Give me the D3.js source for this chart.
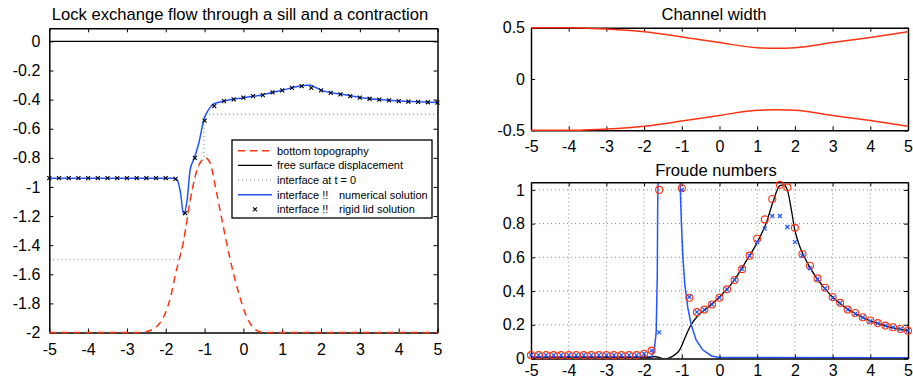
<!DOCTYPE html>
<html>
<head>
<meta charset="utf-8">
<script src="https://cdn.jsdelivr.net/npm/d3@7"></script>
<style>
  body { margin: 0; background: #fff; }
  svg { display: block; font-family: "Liberation Sans", Arial, Helvetica, sans-serif; }
</style>
</head>
<body>
<svg id="chart" width="913" height="382"></svg>
<script>
// ---- left panel: lock exchange ----
const xTicks = [-5, -4, -3, -2, -1, 0, 1, 2, 3, 4, 5];
const leftYTicks = [0, -0.2, -0.4, -0.6, -0.8, -1, -1.2, -1.4, -1.6, -1.8, -2];

const topoX = [-5, -3, -2.65, -2.35, -2.14, -2.0, -1.88, -1.75, -1.54, -1.37, -1.19, -0.98, -0.85, -0.72, -0.55, -0.34, -0.12, 0.05, 0.18, 0.31, 0.52, 1, 5];
const topoY = [-2, -2, -2.0, -1.98, -1.93, -1.86, -1.76, -1.6, -1.37, -1.09, -0.88, -0.8, -0.84, -1.0, -1.23, -1.5, -1.73, -1.87, -1.94, -1.98, -2.0, -2, -2];

const surfX = [-5, 5];
const surfY = [0, 0];

const initX = [-5, -1.67, -1.54, -1.37, -1.19, -1.02, -1.02, 5];
const initY = [-1.5, -1.5, -1.37, -1.09, -0.88, -0.81, -0.5, -0.5];

const numX = [-5, -1.8, -1.71, -1.62, -1.54, -1.45, -1.37, -1.26, -1.15, -1.02, -0.9, -0.77, -0.5, 0, 0.5, 1.0, 1.5, 1.7, 1.85, 2.0, 2.5, 3, 3.5, 4, 4.5, 5];
const numY = [-0.94, -0.94, -0.95, -1.04, -1.19, -1.09, -0.88, -0.8, -0.7, -0.54, -0.47, -0.43, -0.41, -0.387, -0.366, -0.335, -0.305, -0.3, -0.315, -0.335, -0.362, -0.385, -0.4, -0.41, -0.415, -0.42];

const lidX = [-5, -4.75, -4.5, -4.25, -4, -3.75, -3.5, -3.25, -3, -2.75, -2.5, -2.25, -2, -1.75,
  -1.5, -1.25, -1, -0.75, -0.5, -0.25, 0, 0.25, 0.5, 0.75, 1, 1.25, 1.5, 1.75, 2, 2.25, 2.5, 2.75,
  3, 3.25, 3.5, 3.75, 4, 4.25, 4.5, 4.75, 5];
const lidY = [-0.94, -0.94, -0.94, -0.94, -0.94, -0.94, -0.94, -0.94, -0.94, -0.94, -0.94, -0.94, -0.94, -0.945,
  -1.18, -0.8, -0.545, -0.444, -0.41, -0.398, -0.387, -0.376, -0.369, -0.35, -0.337, -0.319, -0.307, -0.319,
  -0.337, -0.353, -0.364, -0.376, -0.387, -0.394, -0.4, -0.405, -0.41, -0.414, -0.416, -0.418, -0.42];

// ---- channel width ----
const chanYTicks = [0.5, 0, -0.5];
const chanX = [-5, -4, -3.5, -3, -2, -1, 0, 1, 1.5, 2, 3, 4, 5];
const chanHalf = [0.5, 0.5, 0.495, 0.487, 0.46, 0.41, 0.355, 0.305, 0.3, 0.305, 0.355, 0.405, 0.46];

// ---- Froude numbers ----
const frYTicks = [0, 0.2, 0.4, 0.6, 0.8, 1];
const frX = [-5, -4.8, -4.6, -4.4, -4.2, -4, -3.8, -3.6, -3.4, -3.2, -3, -2.8, -2.6, -2.4, -2.2,
  -2, -1.8, -1.6, -1.4, -1.2, -1, -0.8, -0.6, -0.4, -0.2, 0, 0.2, 0.4, 0.6, 0.8, 1, 1.2, 1.4, 1.6, 1.8,
  2, 2.2, 2.4, 2.6, 2.8, 3, 3.2, 3.4, 3.6, 3.8, 4, 4.2, 4.4, 4.6, 4.8, 5];
const frCircle = [0.02, 0.02, 0.02, 0.02, 0.02, 0.02, 0.02, 0.02, 0.02, 0.02, 0.02, 0.02, 0.02, 0.02, 0.02,
  0.028, 0.047, 1.0, null, null, 1.01, 0.36, 0.275, 0.29, 0.32, 0.36, 0.41, 0.466, 0.53, 0.61, 0.71, 0.825, 0.946, 1.03, 1.015,
  0.775, 0.62, 0.55, 0.475, 0.42, 0.365, 0.33, 0.29, 0.27, 0.245, 0.225, 0.21, 0.195, 0.185, 0.175, 0.165];
const frCross = [0.02, 0.02, 0.02, 0.02, 0.02, 0.02, 0.02, 0.02, 0.02, 0.02, 0.02, 0.02, 0.02, 0.02, 0.02,
  0.028, 0.047, 0.155, null, null, 1.0, 0.365, 0.275, 0.29, 0.32, 0.36, 0.41, 0.466, 0.53, 0.61, 0.69, 0.77, 0.845, 0.845, 0.78,
  0.69, 0.61, 0.535, 0.47, 0.415, 0.36, 0.33, 0.29, 0.265, 0.243, 0.222, 0.208, 0.195, 0.185, 0.175, 0.165];

const frBlackX = [-5, -2, -1.8, -1.73, -1.6, -1.45, -1.35, -1.23, -1.06, -0.92, -0.79, -0.57, -0.35, 0, 0.36, 0.715, 0.98, 1.25, 1.42, 1.6, 1.7, 1.8, 1.9, 1.99, 2.12, 2.35, 2.77, 3.17, 3.78, 4.38, 5];
const frBlackY = [0.005, 0.005, 0.008, 0.012, 0.006, -0.004, 0.002, 0.015, 0.05, 0.12, 0.185, 0.255, 0.295, 0.365, 0.455, 0.58, 0.68, 0.81, 0.93, 1.025, 1.03, 1.0, 0.89, 0.77, 0.67, 0.56, 0.42, 0.33, 0.245, 0.195, 0.165];

const frBlueX = [-5, -1.8, -1.73, -1.68, -1.65, -1.64, -1.62, -1.06, -1.04, -1.01, -0.97, -0.92, -0.84, -0.75, -0.62, -0.44, -0.21, 0, 5];
const frBlueY = [0.01, 0.012, 0.05, 0.155, 0.495, 0.895, 1.2, 1.2, 1.0, 0.8, 0.6, 0.44, 0.3, 0.2, 0.11, 0.05, 0.015, 0.006, 0.004];

const RED = "#ff3311", BLUE = "#2255ff";

const svg = d3.select("#chart");

function zip(xs, ys) {
  return xs.map((x, i) => ({x: x, y: ys[i]}));
}

// box with inward ticks on all four sides
function frame(x, y, xt, yt, opt) {
  const g = svg.append("g");
  const [x0, x1] = x.range();
  const [y0, y1] = y.range();
  const fmt = d => String(d);

  g.append("g").attr("transform", "translate(0," + y0 + ")")
    .call(d3.axisBottom(x).tickValues(xt).tickSize(-4).tickSizeOuter(0).tickPadding(opt.xPad).tickFormat(fmt));
  g.append("g").attr("transform", "translate(0," + y1 + ")")
    .call(d3.axisTop(x).tickValues(xt).tickSize(-4).tickSizeOuter(0).tickFormat(""));
  g.append("g").attr("transform", "translate(" + x0 + ",0)")
    .call(d3.axisLeft(y).tickValues(yt).tickSize(-4).tickSizeOuter(0).tickPadding(opt.yPad).tickFormat(fmt));
  g.append("g").attr("transform", "translate(" + x1 + ",0)")
    .call(d3.axisRight(y).tickValues(yt).tickSize(-4).tickSizeOuter(0).tickFormat(""));

  g.selectAll(".domain").attr("stroke", "#000").attr("stroke-width", 1.5);
  g.selectAll(".tick line").attr("stroke", "#000");
  g.selectAll(".tick text").attr("font-size", 16).attr("font-family", "Liberation Sans, Arial, sans-serif").attr("fill", "#000");
  return g;
}

function title(txt, cx, by) {
  svg.append("text").attr("x", cx).attr("y", by).attr("text-anchor", "middle")
    .attr("font-size", 16.6).attr("fill", "#000").text(txt);
}

// ============ left panel ============
const xL = d3.scaleLinear().domain([-5, 5]).range([49.3, 437.5]);
const yL = d3.scaleLinear().domain([-2, 0.09]).range([332.5, 28.3]);

const lineL = d3.line().x(d => xL(d.x)).y(d => yL(d.y));

svg.append("path").datum(zip(initX, initY))
  .attr("d", lineL).attr("fill", "none").attr("stroke", "#777").attr("stroke-width", 1).attr("stroke-dasharray", "1,3");

frame(xL, yL, xTicks, leftYTicks, {xPad: 11, yPad: 9});

svg.append("path").datum(zip(surfX, surfY))
  .attr("d", lineL).attr("fill", "none").attr("stroke", "#000").attr("stroke-width", 1.3);

svg.append("path").datum(zip(topoX, topoY))
  .attr("d", lineL.curve(d3.curveMonotoneX)).attr("fill", "none")
  .attr("stroke", RED).attr("stroke-width", 1.5).attr("stroke-dasharray", "7,5");

svg.append("path").datum(zip(numX, numY))
  .attr("d", lineL.curve(d3.curveMonotoneX)).attr("fill", "none")
  .attr("stroke", BLUE).attr("stroke-width", 1.5);

const crossPath = "M-2,-2L2,2M-2,2L2,-2";
svg.append("g").selectAll("path").data(zip(lidX, lidY)).join("path")
  .attr("transform", d => "translate(" + xL(d.x) + "," + yL(d.y) + ")")
  .attr("d", crossPath).attr("stroke", "#000").attr("stroke-width", 1.1);

title("Lock exchange flow through a sill and a contraction", 240, 20);

// legend
const legendItems = [
  {a: "bottom topography", b: ""},
  {a: "free surface displacement", b: ""},
  {a: "interface at t = 0", b: ""},
  {a: "interface !!", b: "numerical solution"},
  {a: "interface !!", b: "rigid lid solution"}
];
const lg = svg.append("g");
lg.append("rect").attr("x", 232).attr("y", 140).attr("width", 200).attr("height", 78)
  .attr("fill", "#fff").attr("stroke", "#000").attr("stroke-width", 1.3);
const legY = d3.scalePoint().domain(d3.range(legendItems.length)).range([150.7, 209.3]);
legendItems.forEach((it, i) => {
  const yy = legY(i);
  if (i < 4) {
    const sample = lg.append("line").attr("x1", 238).attr("x2", 272).attr("y1", yy).attr("y2", yy)
      .attr("fill", "none");
    if (i === 0) sample.attr("stroke", RED).attr("stroke-width", 1.5).attr("stroke-dasharray", "7,5");
    if (i === 1) sample.attr("stroke", "#000").attr("stroke-width", 1.3);
    if (i === 2) sample.attr("stroke", "#777").attr("stroke-width", 1).attr("stroke-dasharray", "1,3");
    if (i === 3) sample.attr("stroke", BLUE).attr("stroke-width", 1.5);
  } else {
    lg.append("path").attr("transform", "translate(255," + yy + ")").attr("d", crossPath)
      .attr("stroke", "#000").attr("stroke-width", 1.1);
  }
  lg.append("text").attr("x", 277).attr("y", yy).attr("dy", "0.35em").attr("font-size", 11).text(it.a);
  if (it.b) lg.append("text").attr("x", 339).attr("y", yy).attr("dy", "0.35em").attr("font-size", 11).text(it.b);
});

// ============ channel width ============
const xC = d3.scaleLinear().domain([-5, 5]).range([531, 908]);
const yC = d3.scaleLinear().domain([-0.5, 0.5]).range([130.3, 27.7]);

frame(xC, yC, xTicks, chanYTicks, {xPad: 10, yPad: 6});

const lineC = d3.line().x(d => xC(d.x)).y(d => yC(d.y)).curve(d3.curveMonotoneX);
svg.append("path").datum(zip(chanX, chanHalf))
  .attr("d", lineC).attr("fill", "none").attr("stroke", RED).attr("stroke-width", 1.5);
svg.append("path").datum(zip(chanX, chanHalf.map(v => -v)))
  .attr("d", lineC).attr("fill", "none").attr("stroke", RED).attr("stroke-width", 1.5);

title("Channel width", 714, 20);

// ============ Froude numbers ============
const xF = d3.scaleLinear().domain([-5, 5]).range([531, 908]);
const yF = d3.scaleLinear().domain([0, 1.045]).range([358.5, 182.3]);

const grid = svg.append("g").attr("stroke", "#888").attr("stroke-width", 1).attr("stroke-dasharray", "1,3");
grid.selectAll("line.v").data(xTicks.slice(1, -1)).join("line").attr("class", "v")
  .attr("x1", d => xF(d)).attr("x2", d => xF(d)).attr("y1", yF.range()[0]).attr("y2", yF.range()[1]);
grid.selectAll("line.h").data(frYTicks.slice(1)).join("line").attr("class", "h")
  .attr("x1", xF.range()[0]).attr("x2", xF.range()[1]).attr("y1", d => yF(d)).attr("y2", d => yF(d));

svg.append("clipPath").attr("id", "clipF").append("rect")
  .attr("x", 531).attr("y", 182.3).attr("width", 377).attr("height", 176.2);

const lineF = d3.line().x(d => xF(d.x)).y(d => yF(d.y));
const fr = svg.append("g").attr("clip-path", "url(#clipF)");
fr.append("path").datum(zip(frBlackX, frBlackY))
  .attr("d", lineF.curve(d3.curveMonotoneX)).attr("fill", "none").attr("stroke", "#000").attr("stroke-width", 1.3);
fr.append("path").datum(zip(frBlueX, frBlueY))
  .attr("d", lineF.curve(d3.curveLinear)).attr("fill", "none").attr("stroke", BLUE).attr("stroke-width", 1.5);

frame(xF, yF, xTicks, frYTicks, {xPad: 6, yPad: 6});

svg.append("g").selectAll("circle").data(zip(frX, frCircle).filter(d => d.y !== null)).join("circle")
  .attr("cx", d => xF(d.x)).attr("cy", d => yF(d.y)).attr("r", 3.5)
  .attr("fill", "none").attr("stroke", RED).attr("stroke-width", 1.1);
svg.append("g").selectAll("path").data(zip(frX, frCross).filter(d => d.y !== null)).join("path")
  .attr("transform", d => "translate(" + xF(d.x) + "," + yF(d.y) + ")")
  .attr("d", crossPath).attr("stroke", BLUE).attr("stroke-width", 1.2);

title("Froude numbers", 716, 176);
</script>
</body>
</html>
